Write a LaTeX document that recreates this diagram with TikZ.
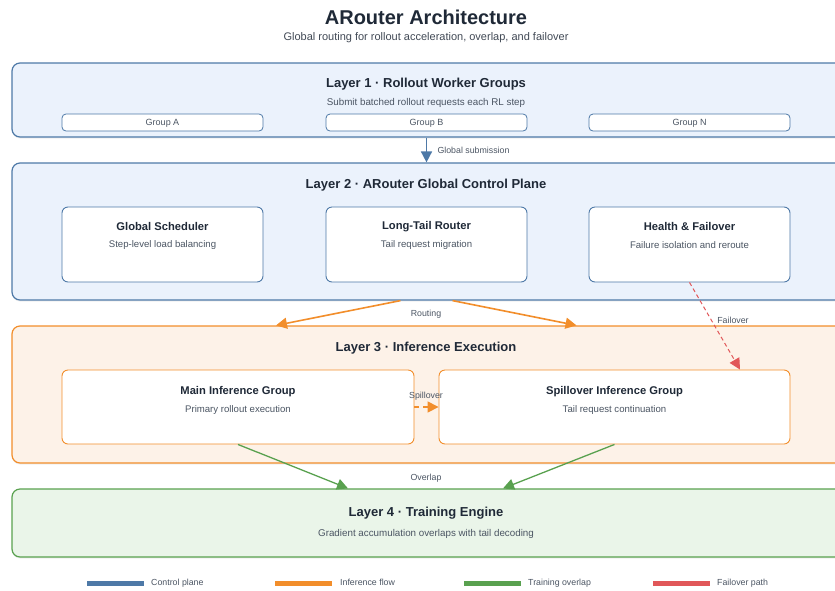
\documentclass[tikz,border=0pt]{standalone}
\usepackage{fontspec}
\setmainfont{Liberation Sans}
\usetikzlibrary{arrows.meta,calc,shadows}
\definecolor{cblue}{HTML}{4E79A7}
\definecolor{corange}{HTML}{F28E2B}
\definecolor{cgreen}{HTML}{59A14F}
\definecolor{cred}{HTML}{E15759}
\definecolor{fblue}{HTML}{EBF2FC}
\definecolor{forange}{HTML}{FDF2E8}
\definecolor{fgreen}{HTML}{EAF5E9}
\definecolor{tdark}{HTML}{1F2937}
\definecolor{tgray}{HTML}{4B5563}
\tikzset{
  layerbox/.style={draw=#1, line width=1.2pt, rounded corners=8pt, minimum width=833pt, inner sep=0pt,
    drop shadow={opacity=0.12, shadow xshift=0pt, shadow yshift=-1.5pt}},
  innerbox/.style={draw=#1, fill=white, line width=0.9pt, rounded corners=6pt, inner sep=0pt},
  groupbox/.style={draw=cblue, fill=white, line width=0.8pt, rounded corners=4pt, minimum width=201pt, minimum height=17pt, inner sep=0pt, text height=5pt, text depth=0pt, font=\fontsize{9}{10}\selectfont, text=tgray},
  txt/.style={yshift=-1.5pt},
  ltitle/.style={txt, font=\fontsize{13}{15}\selectfont\bfseries, text=tdark},
  lsub/.style={txt, font=\fontsize{9.8}{11}\selectfont, text=tgray},
  btitle/.style={txt, font=\fontsize{11.2}{13}\selectfont\bfseries, text=tdark},
  bsub/.style={txt, font=\fontsize{9.6}{11}\selectfont, text=tgray},
  elabel/.style={txt, font=\fontsize{8.8}{10}\selectfont, text=tgray},
  tip/.style={-{Triangle[length=11pt,width=11pt]}},
  arr/.style={line width=1.6pt, tip},
  legbar/.style={fill=#1, minimum width=57pt, minimum height=5pt, inner sep=0pt},
  legtext/.style={font=\fontsize{8.8}{10}\selectfont, text=tgray, anchor=west, inner sep=0pt, text height=5pt, text depth=0pt},
}
\begin{document}
\begin{tikzpicture}[x=1pt,y=-1pt]
\useasboundingbox (0,0) rectangle (835,590);
\clip (0,0) rectangle (835,590);
% title
\node[font=\fontsize{20}{23}\selectfont\bfseries, text=tdark] (title) at (426,17) {ARouter Architecture};
\node[txt, font=\fontsize{11}{13}\selectfont, text=tdark!85] (subtitle) at (426,36) {Global routing for rollout acceleration, overlap, and failover};
% layers
\node[layerbox=cblue, fill=fblue, minimum height=74pt] (l1) at (428.5,100) {};
\node[layerbox=cblue, fill=fblue, minimum height=137pt] (l2) at (428.5,231.5) {};
\node[layerbox=corange, fill=forange, minimum height=137pt] (l3) at (428.5,394.5) {};
\node[layerbox=cgreen, fill=fgreen, minimum height=68pt] (l4) at (428.5,523) {};
% layer 1
\node[ltitle] (l1t) at (426,83) {Layer 1 · Rollout Worker Groups};
\node[lsub] (l1s) at (426,101) {Submit batched rollout requests each RL step};
\node[groupbox] (ga) at (162.5,122.5) {Group A};
\node[groupbox] (gb) at (426.5,122.5) {Group B};
\node[groupbox] (gn) at (689.5,122.5) {Group N};
% layer 2
\node[ltitle] (l2t) at (426,184) {Layer 2 · ARouter Global Control Plane};
\node[innerbox=cblue, minimum width=201pt, minimum height=75pt] (gs) at (162.5,244.5) {};
\node[innerbox=cblue, minimum width=201pt, minimum height=75pt] (lt) at (426.5,244.5) {};
\node[innerbox=cblue, minimum width=201pt, minimum height=75pt] (hf) at (689.5,244.5) {};
\node[btitle] (gst) at (162.5,225) {Global Scheduler};
\node[bsub] (gss) at (162.5,244) {Step-level load balancing};
\node[btitle] (ltt) at (426.5,225) {Long-Tail Router};
\node[bsub] (lts) at (426.5,244) {Tail request migration};
\node[btitle] (hft) at (689.5,225) {Health \& Failover};
\node[bsub] (hfs) at (689.5,244) {Failure isolation and reroute};
% layer 3
\node[ltitle] (l3t) at (426,347) {Layer 3 · Inference Execution};
\node[innerbox=corange, minimum width=352pt, minimum height=74pt] (mig) at (238,407) {};
\node[innerbox=corange, minimum width=351pt, minimum height=74pt] (sig) at (614.5,407) {};
\node[btitle] (migt) at (238,390) {Main Inference Group};
\node[bsub] (migs) at (238,409) {Primary rollout execution};
\node[btitle] (sigt) at (614.5,390) {Spillover Inference Group};
\node[bsub] (sigs) at (614.5,409) {Tail request continuation};
% layer 4
\node[ltitle] (l4t) at (426,512) {Layer 4 · Training Engine};
\node[lsub] (l4s) at (426,532) {Gradient accumulation overlaps with tail decoding};
% connectors
\draw[arr, cblue] (l1.south -| gb.south) -- (l2.north -| gb.south);
\node[elabel, anchor=west] (lgs) at (434,149) {Global submission};
\draw[arr, corange] ($(l2.south -| lt.south)+(-26,0)$) -- ($(l3.north -| mig.south)+(38,0)$);
\draw[arr, corange] ($(l2.south -| lt.south)+(26,0)$) -- ($(l3.north -| sig.south)+(-38,0)$);
\node[elabel] (lrt) at (426,313) {Routing};
\draw[cred, line width=1pt, dash pattern=on 4pt off 3pt, tip] (hf.south) -- ($(sig.north)+(125.5,0)$);
\node[elabel] (lfo) at (733,319) {Failover};
\draw[corange, line width=1.6pt, dash pattern=on 5pt off 4pt, tip] (mig.east |- 0,407) -- (sig.west |- 0,407);
\node[elabel] (lsp) at (426,395) {Spillover};
\draw[arr, cgreen, line width=1.3pt] (mig.south) -- ($(l4.north)+(-80.5,0)$);
\draw[arr, cgreen, line width=1.3pt] (sig.south) -- ($(l4.north)+(74.5,0)$);
\node[elabel] (lov) at (426,477) {Overlap};
% legend
\node[legbar=cblue] (b1) at (115.5,583) {};
\node[legtext] (t1) at (151,583) {Control plane};
\node[legbar=corange] (b2) at (303.5,583) {};
\node[legtext] (t2) at (340,583) {Inference flow};
\node[legbar=cgreen] (b3) at (492.5,583) {};
\node[legtext] (t3) at (528,583) {Training overlap};
\node[legbar=cred] (b4) at (681.5,583) {};
\node[legtext] (t4) at (717,583) {Failover path};
\end{tikzpicture}
\end{document}
